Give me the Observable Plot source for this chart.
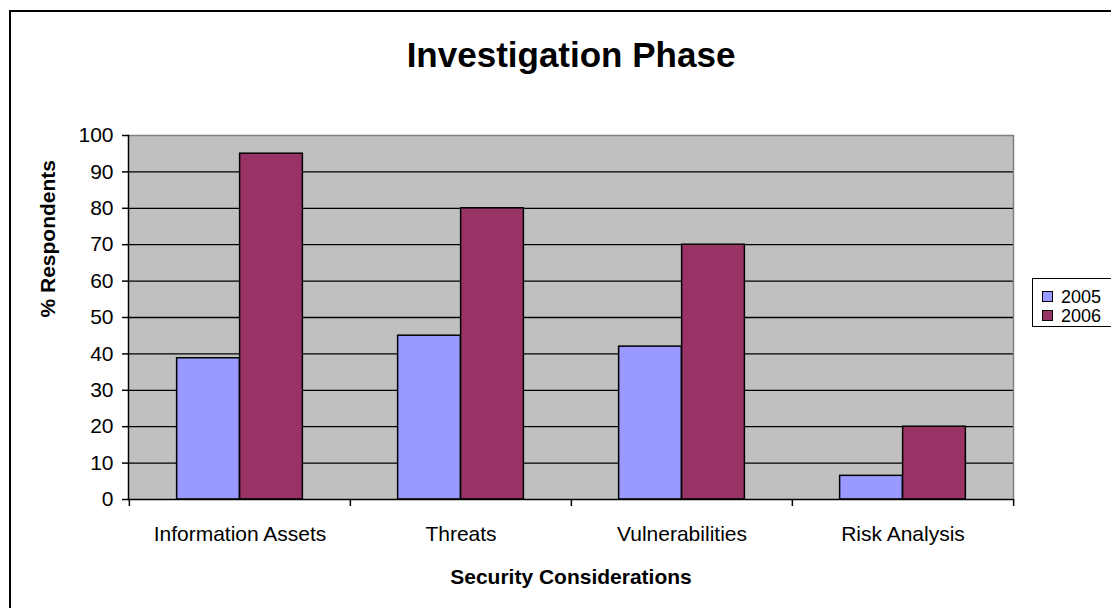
<!DOCTYPE html>
<html>
<head>
<meta charset="utf-8">
<script src="https://cdn.jsdelivr.net/npm/d3@7"></script>
<script src="https://cdn.jsdelivr.net/npm/@observablehq/plot@0.6"></script>
<style>
  html, body { margin: 0; padding: 0; background: #fff; overflow: hidden; }
  body { width: 1111px; height: 608px; position: relative; font-family: "Liberation Sans", Arial, sans-serif; }
  #outer { position: absolute; left: 9px; top: 10px; width: 1200px; height: 700px; border: 2px solid #000; box-sizing: border-box; }
  #chart { position: absolute; left: 0; top: 0; }
  #legend { position: absolute; left: 1032px; top: 278px; width: 120px; height: 49px; border: 1px solid #000; background: #fff; box-sizing: border-box; }
  .item { position: absolute; left: 9px; font-size: 18px; line-height: 18px; color: #000; white-space: nowrap; }
  .sw { display: inline-block; width: 9px; height: 9px; border: 1px solid #000; margin-right: 8px; vertical-align: 1px; }
</style>
</head>
<body>
<div id="outer"></div>
<div id="chart"></div>
<div id="legend"></div>
<script>
const categories = ["Information Assets", "Threats", "Vulnerabilities", "Risk Analysis"];
const years = ["2005", "2006"];
const values2005 = [38.8, 45, 42, 6.5];
const values2006 = [95, 80, 70, 20];
const yTicks = [0, 10, 20, 30, 40, 50, 60, 70, 80, 90, 100];
const colors = ["#9999FF", "#993366"];
const titleText = "Investigation Phase";
const xLabel = "Security Considerations";
const yLabel = "% Respondents";

const W = 1111, H = 608;
const mL = 128, mR = 98, mT = 135, mB = 109;
const bw = (W - mL - mR) / categories.length;
const barW = 63;

const rows2005 = categories.map((c, i) => ({category: c, year: years[0], value: values2005[i]}));
const rows2006 = categories.map((c, i) => ({category: c, year: years[1], value: values2006[i]}));

const font = "Liberation Sans, Arial, sans-serif";

const chart = Plot.plot({
  width: W,
  height: H,
  marginLeft: mL,
  marginRight: mR,
  marginTop: mT,
  marginBottom: mB,
  style: {fontFamily: font, color: "#000", background: "transparent", overflow: "visible"},
  x: {domain: categories, padding: 0, label: null},
  y: {domain: [0, 100], label: null},
  marks: [
    Plot.frame({fill: "#C0C0C0", stroke: "none"}),
    Plot.ruleY(yTicks.filter(d => d > 0 && d < 100), {stroke: "#000", strokeWidth: 1.3}),
    Plot.ruleY([100], {stroke: "#808080", strokeWidth: 1.5}),
    Plot.frame({anchor: "right", stroke: "#808080", strokeWidth: 1.5}),
    Plot.barY(rows2005, {x: "category", y: "value", fill: colors[0], stroke: "#000", strokeWidth: 1.5,
      insetLeft: bw / 2 - barW, insetRight: bw / 2}),
    Plot.barY(rows2006, {x: "category", y: "value", fill: colors[1], stroke: "#000", strokeWidth: 1.5,
      insetLeft: bw / 2, insetRight: bw / 2 - barW}),
    Plot.ruleY([0], {stroke: "#000", strokeWidth: 1.5}),
    Plot.frame({anchor: "left", stroke: "#000", strokeWidth: 1.5}),
    Plot.axisY({ticks: yTicks, tickSize: 6, tickPadding: 9, fontSize: 21, strokeWidth: 1.5, label: null}),
    Plot.axisX({tickSize: 0, tickPadding: 27, fontSize: 21, label: null}),
    Plot.axisX({ticks: categories, tickSize: 7, text: null, dx: -bw / 2, strokeWidth: 1.5, label: null}),
    Plot.axisX({ticks: categories.slice(-1), tickSize: 7, text: null, dx: bw / 2, strokeWidth: 1.5, label: null}),
    Plot.text([titleText], {frameAnchor: "top", dy: -80, fontSize: 35, fontWeight: "bold", lineAnchor: "middle"}),
    Plot.text([xLabel], {frameAnchor: "bottom", dy: 78, fontSize: 21, fontWeight: "bold", lineAnchor: "middle"}),
    Plot.text([yLabel], {frameAnchor: "left", dx: -80, rotate: -90, fontSize: 21, fontWeight: "bold", lineAnchor: "middle"})
  ]
});
document.getElementById("chart").appendChild(chart);

const legend = document.getElementById("legend");
years.forEach((yr, i) => {
  const it = document.createElement("div");
  it.className = "item";
  it.style.top = (9 + i * 19) + "px";
  it.innerHTML = `<span class="sw" style="background:${colors[i]}"></span>${yr}`;
  legend.appendChild(it);
});
</script>
</body>
</html>
